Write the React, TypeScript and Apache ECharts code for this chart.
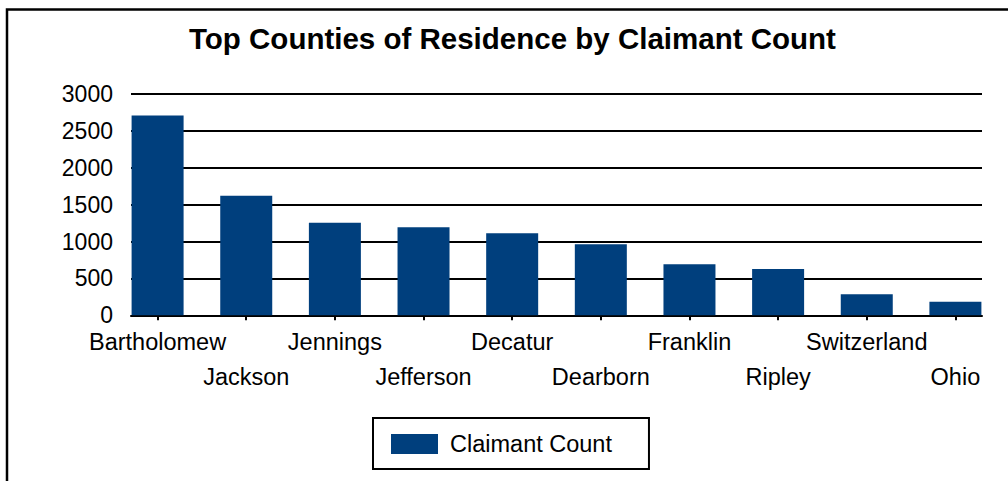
import React, { useEffect, useRef } from "react";
import * as echarts from "echarts";

const categories = [
  "Bartholomew",
  "Jackson",
  "Jennings",
  "Jefferson",
  "Decatur",
  "Dearborn",
  "Franklin",
  "Ripley",
  "Switzerland",
  "Ohio",
];
const claimantCount = [2710, 1620, 1256, 1193, 1112, 963, 692, 628, 285, 184];
const yTicks = { min: 0, max: 3000, interval: 500 };
const seriesName = "Claimant Count";
const titleText = "Top Counties of Residence by Claimant Count";

const FONT = "'Liberation Sans', Arial, Helvetica, sans-serif";
const BAR_COLOR = "#003F7D";

export default function App() {
  const ref = useRef<HTMLDivElement>(null);

  useEffect(() => {
    if (!ref.current) return;
    const chart = echarts.init(ref.current, null, { renderer: "svg" });
    const idx = categories.map((_, i) => i);
    const evenIdx = idx.filter((i) => i % 2 === 0);
    const oddIdx = idx.filter((i) => i % 2 === 1);
    const labelBase = {
      showMinLabel: true,
      showMaxLabel: true,
      hideOverlap: false,
      formatter: (v: number) => categories[Math.round(v)],
      fontFamily: FONT,
      fontSize: 23.5,
      color: "#000",
    };
    chart.setOption({
      animation: false,
      backgroundColor: "#fff",
      textStyle: { fontFamily: FONT },
      title: {
        text: titleText,
        left: 189,
        top: 23,
        padding: 0,
        textStyle: {
          fontFamily: FONT,
          fontSize: 29.5,
          fontWeight: "bold",
          color: "#000",
        },
      },
      graphic: [
        {
          type: "rect",
          shape: { x: 7, y: 9.5, width: 1200, height: 700 },
          style: { fill: "none", stroke: "#000", lineWidth: 2.5 },
          silent: true,
        },
      ],
      legend: {
        data: [seriesName],
        left: 373,
        top: 418,
        orient: "horizontal",
        icon: "rect",
        itemWidth: 47,
        itemHeight: 20,
        borderColor: "#000",
        borderWidth: 2,
        padding: [14, 37, 13, 18],
        textStyle: {
          fontFamily: FONT,
          fontSize: 23.5,
          color: "#000",
          lineHeight: 20,
          padding: [0, 0, 0, 7],
        },
      },
      grid: { left: 131, right: 26, top: 94, bottom: 165.7, containLabel: false },
      xAxis: [
        {
          type: "value",
          position: "bottom",
          min: -0.3,
          max: 9.3,
          splitLine: { show: false },
          axisLine: { show: true, lineStyle: { color: "#000", width: 2 } },
          axisTick: {
            show: true,
            customValues: idx,
            length: 5,
            lineStyle: { color: "#000", width: 2 },
          },
          axisLabel: { ...labelBase, customValues: evenIdx, margin: 15 },
        },
        {
          type: "value",
          position: "bottom",
          offset: 0,
          min: -0.3,
          max: 9.3,
          splitLine: { show: false },
          axisLine: { show: false },
          axisTick: { show: false },
          axisLabel: { ...labelBase, customValues: oddIdx, margin: 50 },
        },
      ],
      yAxis: {
        type: "value",
        min: yTicks.min,
        max: yTicks.max,
        interval: yTicks.interval,
        axisLine: { show: false },
        axisTick: { show: true, length: 9, lineStyle: { color: "#000", width: 2 } },
        splitLine: { show: true, lineStyle: { color: "#000", width: 2 } },
        axisLabel: {
          formatter: (v: number) => String(v),
          fontFamily: FONT,
          fontSize: 23,
          color: "#000",
          margin: 18,
        },
      },
      series: [
        {
          name: seriesName,
          type: "bar",
          xAxisIndex: 0,
          barWidth: 52,
          itemStyle: { color: BAR_COLOR },
          data: claimantCount.map((v, i) => [i, v]),
        },
      ],
    });
    return () => chart.dispose();
  }, []);

  return (
    <div
      ref={ref}
      style={{ position: "fixed", left: 0, top: 0, width: 1008, height: 481 }}
    />
  );
}
